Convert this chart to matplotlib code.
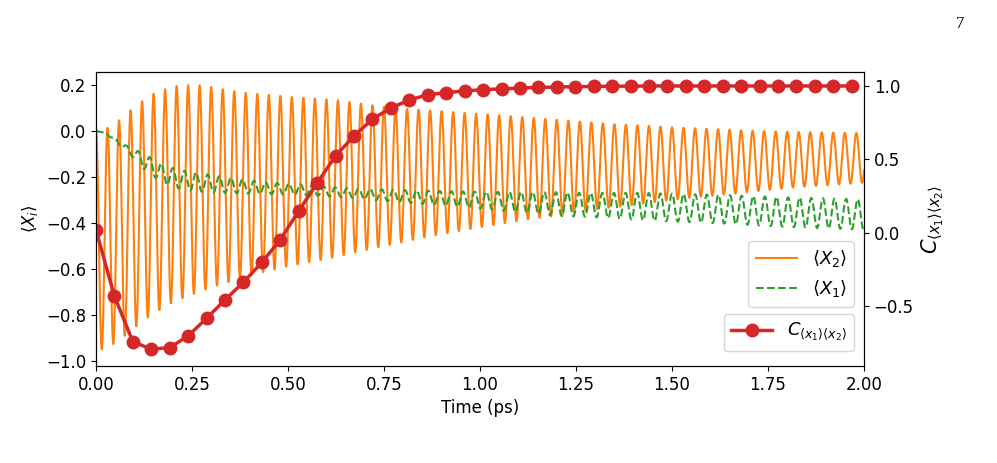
#!/usr/bin/env python3
import numpy as np
import matplotlib
matplotlib.use('Agg')
from matplotlib import pyplot as plt

# correlation C_<x1><x2> sampled every step (right axis)
t_corr = np.linspace(0, 41*0.048, 42)
corr = [0.02, -0.43, -0.74, -0.79, -0.78, -0.70, -0.58, -0.455, -0.335, -0.20,
        -0.045, 0.15, 0.34, 0.525, 0.66, 0.775, 0.85, 0.905, 0.94, 0.955,
        0.966, 0.975, 0.98, 0.986, 0.99, 0.993, 0.995, 0.997, 0.998, 0.999,
        1.0, 1.0, 1.0, 1.0, 1.0, 1.0, 1.0, 1.0, 1.0, 1.0, 1.0, 1.0]

# <X2>: peaks and troughs (period 0.03 ps)
x2_peak_t = [0.0, 0.03, 0.06, 0.09, 0.12, 0.15, 0.18, 0.21, 0.24, 0.27, 0.30,
             0.33, 0.36, 0.39, 0.45, 0.51, 0.57, 0.63, 0.69, 0.78, 0.87, 0.96,
             1.05, 1.14, 1.23, 1.34, 1.43, 1.52, 1.61, 1.70, 1.79, 1.88, 1.98, 2.0]
x2_peak = [0.0, 0.012, 0.045, 0.089, 0.128, 0.16, 0.18, 0.194, 0.198, 0.197, 0.19,
           0.18, 0.172, 0.164, 0.156, 0.146, 0.14, 0.132, 0.117, 0.097, 0.089, 0.077,
           0.067, 0.055, 0.044, 0.029, 0.022, 0.013, 0.007, 0.0, -0.004, -0.007, -0.01, -0.01]
x2_trough_t = [0.0, 0.015, 0.045, 0.075, 0.105, 0.135, 0.165, 0.195, 0.225, 0.255,
               0.285, 0.315, 0.375, 0.435, 0.495, 0.555, 0.615, 0.678, 0.768,
               0.858, 0.948, 1.04, 1.13, 1.22, 1.28, 1.37, 1.46, 1.55, 1.64,
               1.73, 1.82, 1.91, 2.0]
x2_trough = [-0.95, -0.949, -0.927, -0.891, -0.85, -0.811, -0.779, -0.75, -0.728, -0.709,
             -0.69, -0.672, -0.642, -0.614, -0.59, -0.571, -0.552, -0.527, -0.495,
             -0.462, -0.435, -0.408, -0.384, -0.364, -0.345, -0.328, -0.309, -0.29, -0.277,
             -0.261, -0.246, -0.236, -0.226]

# <X1>: upper / lower envelope
x1_t = [0.0, 0.03, 0.06, 0.09, 0.12, 0.15, 0.18, 0.21, 0.24, 0.27, 0.30, 0.33,
        0.38, 0.45, 0.55, 0.65, 0.75, 0.85, 1.0, 1.2, 1.28, 1.42, 1.63, 1.8, 2.0]
x1_up = [0.0, -0.012, -0.045, -0.075, -0.095, -0.125, -0.152, -0.167, -0.178, -0.185,
         -0.192, -0.2, -0.211, -0.225, -0.235, -0.25, -0.255, -0.26, -0.265, -0.267,
         -0.27, -0.27, -0.279, -0.289, -0.298]
x1_lo = [0.0, -0.018, -0.062, -0.105, -0.16, -0.2, -0.232, -0.25, -0.258, -0.265,
         -0.268, -0.27, -0.273, -0.275, -0.28, -0.29, -0.305, -0.318, -0.338, -0.37,
         -0.374, -0.389, -0.403, -0.418, -0.43]

t = np.linspace(0, 2, 6001)
up2 = np.interp(t, x2_peak_t, x2_peak)
lo2 = np.interp(t, x2_trough_t, x2_trough)
X2 = 0.5*(up2+lo2) + 0.5*(up2-lo2)*np.cos(2*np.pi*t/0.03)
up1 = np.interp(t, x1_t, x1_up)
lo1 = np.interp(t, x1_t, x1_lo)
X1 = 0.5*(up1+lo1) - 0.5*(up1-lo1)*np.cos(2*np.pi*(t-0.185)/0.03023)

plt.rcParams['font.size'] = 12
fig = plt.figure(figsize=(9.97, 4.63), dpi=100)
ax = fig.add_axes([0.0963, 0.2095, 0.7703, 0.635])
ax.plot(t, X2, color='tab:orange', lw=1.5, label=r'$\langle X_2\rangle$')
ax.plot(t, X1, color='tab:green', lw=1.5, ls='--', label=r'$\langle X_1\rangle$')
ax.set_xlim(0, 2)
ax.set_ylim(-1.022, 0.255)
ax.set_xticks(np.arange(0, 2.01, 0.25))
ax.set_yticks(np.arange(-1.0, 0.21, 0.2))
ax.set_xlabel('Time (ps)')
ax.set_ylabel(r'$\langle X_i\rangle$')
ax.legend(loc='lower right', bbox_to_anchor=(0.987, 0.2017), borderaxespad=0,
          fontsize=13, handlelength=2.3)

ax2 = ax.twinx()
ax2.plot(t_corr, corr, color='tab:red', lw=2.5, marker='o', ms=9,
         label=r'$C_{\langle x_1\rangle\langle x_2\rangle}$')
ax2.set_ylim(-0.905, 1.095)
ax2.set_yticks([-0.5, 0.0, 0.5, 1.0])
ax2.set_ylabel(r'$C_{\langle x_1\rangle\langle x_2\rangle}$', fontsize=15)
ax2.legend(loc='lower right', bbox_to_anchor=(0.987, 0.052), borderaxespad=0,
           fontsize=13, handlelength=2.3)

fig.text(0.963, 0.965, '7', family='Liberation Serif', fontsize=12, ha='center', va='top')

fig.savefig('out.png', dpi=100)
